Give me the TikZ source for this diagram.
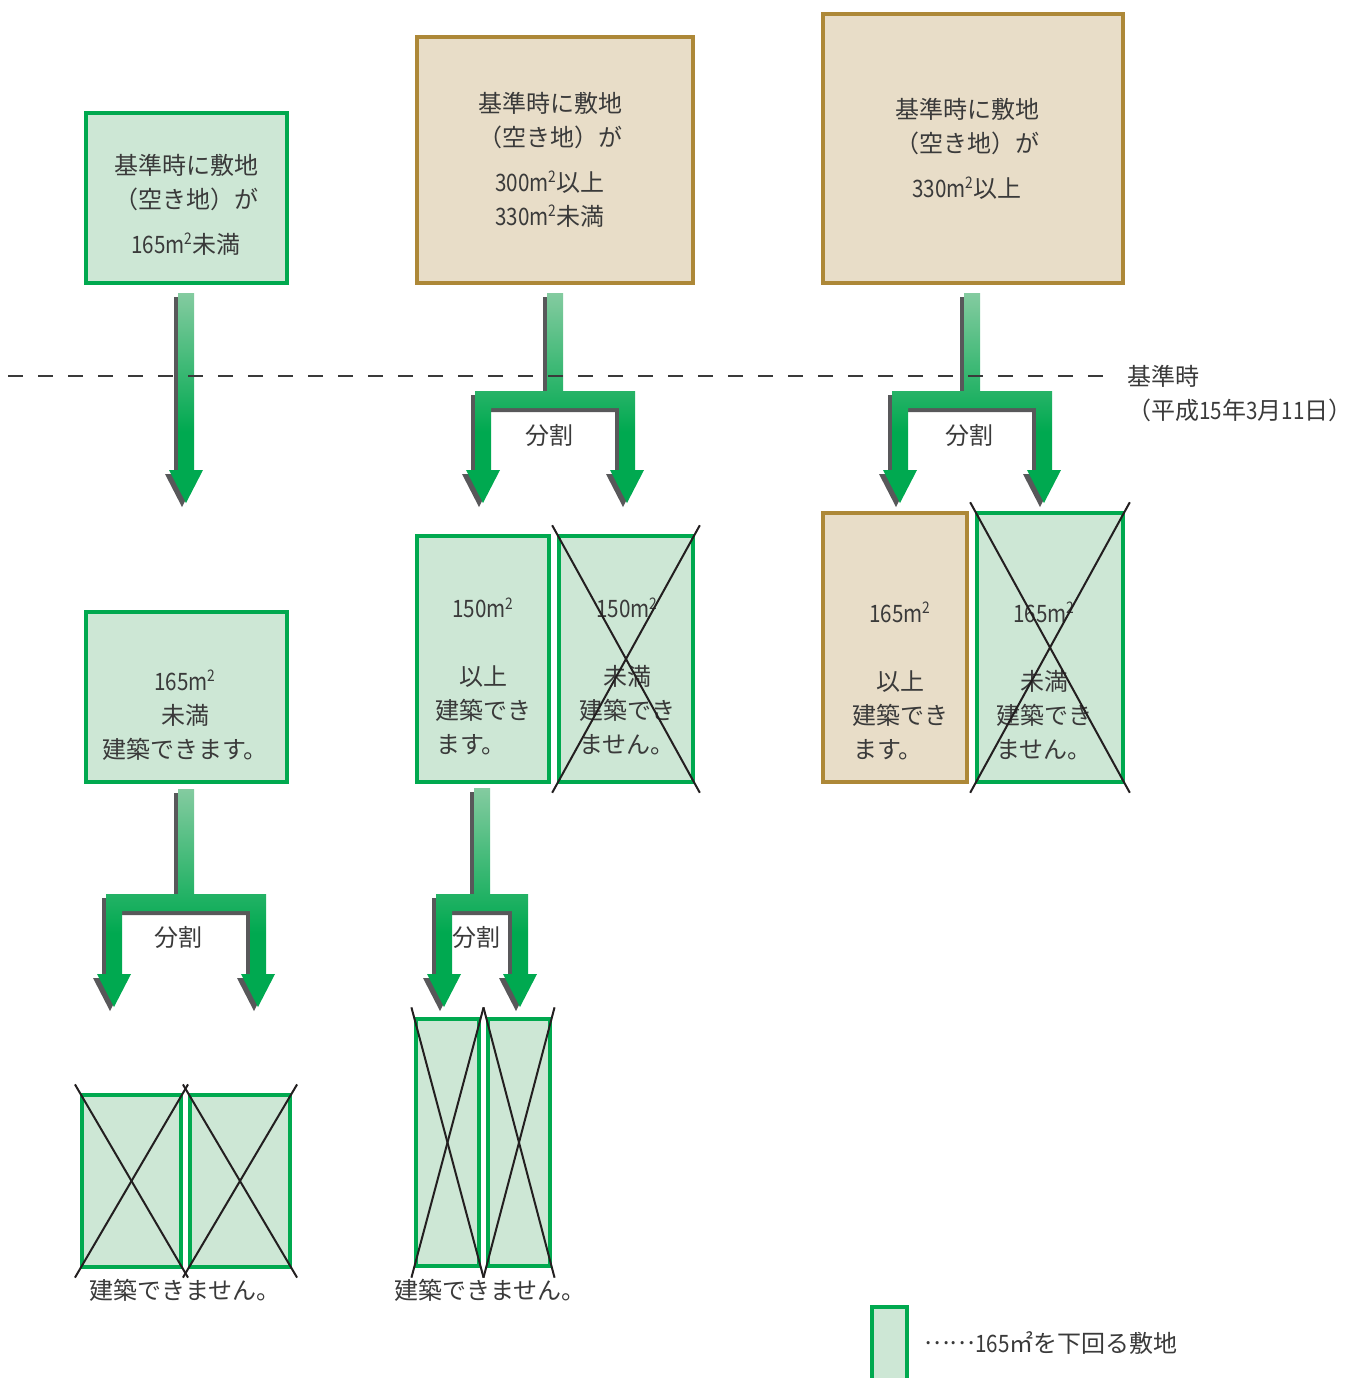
\documentclass[tikz,border=0pt]{standalone}
\usepackage{fontspec}
\setmainfont{Noto Sans CJK JP}
\newfontfamily\numfont[FakeStretch=0.86]{Noto Sans CJK JP}

\definecolor{lgreen}{HTML}{00A94F}
\definecolor{lgreenfill}{HTML}{CDE7D5}
\definecolor{ltan}{HTML}{AD8838}
\definecolor{ltanfill}{HTML}{E8DDC8}
\definecolor{agreen}{HTML}{00A950}
\definecolor{alight}{HTML}{84CBA0}
\definecolor{ashade}{HTML}{58585A}
\definecolor{txtgray}{HTML}{3A3A3A}
\definecolor{crossblack}{HTML}{231F20}

\pgfdeclareverticalshading{arrowfade}{100bp}{color(0bp)=(agreen); color(25bp)=(agreen); color(42bp)=(agreen); color(75bp)=(alight); color(100bp)=(alight)}

\tikzset{
  lotg/.style={draw=lgreen, fill=lgreenfill, line width=2pt, inner sep=0pt},
  lott/.style={draw=ltan, fill=ltanfill, line width=2pt, inner sep=0pt},
  lbl/.style={text=txtgray, align=center, inner sep=0pt, font=\fontsize{12}{17}\selectfont},
  cross/.style={draw=crossblack, line width=1pt, shorten <=-5pt, shorten >=-5pt},
  dashline/.style={draw=txtgray, line width=0.8pt, dash pattern=on 7.5pt off 7.5pt},
  ashadow/.style={fill=ashade},
  afill/.style={shade, shading=arrowfade}
}

% area in square metres, narrow digits
\newcommand{\area}[1]{{\numfont #1m\textsuperscript{\kern-0.05em 2}}}

% centre x, top y, tip y
\newcommand{\droparrow}[3]{%
  \foreach \dx/\dy/\how in {-4/4/ashadow, 0/0/afill}
    \path[\how, shift={(\dx,\dy)}] ({#1-8},#2) -- ({#1+8},#2) -- ({#1+8},{#3-33})
      -- ({#1+17},{#3-33}) -- (#1,#3) -- ({#1-17},{#3-33}) -- ({#1-8},{#3-33}) -- cycle;}

% centre x, top y, bar y, tip y, spread
\newcommand{\splitarrow}[5]{%
  \foreach \dx/\dy/\how in {-4/4/ashadow, 0/0/afill}
    \path[\how, shift={(\dx,\dy)}] ({#1-8},#2) -- ({#1+8},#2) -- ({#1+8},#3)
      -- ({#1+#5+8},#3) -- ({#1+#5+8},{#4-33}) -- ({#1+#5+17},{#4-33}) -- ({#1+#5},#4)
      -- ({#1+#5-17},{#4-33}) -- ({#1+#5-8},{#4-33}) -- ({#1+#5-8},{#3+17})
      -- ({#1-#5+8},{#3+17}) -- ({#1-#5+8},{#4-33}) -- ({#1-#5+17},{#4-33}) -- ({#1-#5},#4)
      -- ({#1-#5-17},{#4-33}) -- ({#1-#5-8},{#4-33}) -- ({#1-#5-8},#3) -- ({#1-8},#3) -- cycle;}

\begin{document}
\begin{tikzpicture}[x=0.5pt, y=-0.5pt]
      \useasboundingbox (0,0) rectangle (1362,1378);
      \clip (0,0) rectangle (1362,1378);
      % arrows
      \droparrow{186}{293}{503}
      \splitarrow{555}{293}{391}{503}{72}
      \splitarrow{972}{293}{391}{503}{72}
      \splitarrow{186}{789}{894}{1007}{72}
      \splitarrow{482}{788}{894}{1007}{38}
      % reference date
      \draw[dashline] (8,376) -- (1115,376);
      \node[lbl, align=left, anchor=west] at (1127,394) (K) {基準時\\（平成{\numfont 15}年{\numfont 3}月{\numfont 11}日）};
      % first column
      \node[lotg, minimum width=100.5pt, minimum height=85pt] at (186.5,198) (A) {};
      \node[lbl] at (186,204.5) (At) {基準時に敷地\\（空き地）が\\[5.5pt]\area{165}未満};
      \node[lotg, minimum width=100.5pt, minimum height=85pt] at (186.5,697) (A1) {};
      \node[lbl] at (185,715) (A1t) {\area{165}\\未満\\建築できます。};
      \node[lbl] at (178,937) (A1s) {分割};
      \node[lotg, minimum width=49.5pt, minimum height=86pt] at (131.5,1181) (A2) {};
      \node[lotg, minimum width=50pt, minimum height=86pt] at (240,1181) (A3) {};
      \draw[cross] (A2.north west) -- (A2.south east);
      \draw[cross] (A2.north east) -- (A2.south west);
      \draw[cross] (A3.north west) -- (A3.south east);
      \draw[cross] (A3.north east) -- (A3.south west);
      \node[lbl] at (185,1290) (A23t) {建築できません。};
      % second column
      \node[lott, minimum width=138pt, minimum height=123pt] at (555,160) (B) {};
      \node[lbl] at (550,159.5) (Bt) {基準時に敷地\\（空き地）が\\[5.5pt]\area{300}以上\\\area{330}未満};
      \node[lbl] at (549,435) (Bs) {分割};
      \node[lotg, minimum width=66pt, minimum height=123pt] at (483,659) (B1) {};
      \node[lbl] at (483,676.5) (B1t) {\area{150}\\[17pt]以上\\建築でき\\ます。\phantom{き}};
      \node[lotg, minimum width=67pt, minimum height=123pt] at (626,659) (B2) {};
      \node[lbl] at (627,676.5) (B2t) {\area{150}\\[17pt]未満\\建築でき\\ません。};
      \draw[cross] (B2.north west) -- (B2.south east);
      \draw[cross] (B2.north east) -- (B2.south west);
      \node[lbl] at (476,937) (B1s) {分割};
      \node[lotg, minimum width=31.5pt, minimum height=123.5pt] at (447.5,1142.5) (B3) {};
      \node[lotg, minimum width=31pt, minimum height=123.5pt] at (519,1142.5) (B4) {};
      \draw[cross] (B3.north west) -- (B3.south east);
      \draw[cross] (B3.north east) -- (B3.south west);
      \draw[cross] (B4.north west) -- (B4.south east);
      \draw[cross] (B4.north east) -- (B4.south west);
      \node[lbl] at (490,1290) (B34t) {建築できません。};
      % third column
      \node[lott, minimum width=150pt, minimum height=134.5pt] at (973,148.5) (C) {};
      \node[lbl] at (967,148.5) (Ct) {基準時に敷地\\（空き地）が\\[5.5pt]\area{330}以上};
      \node[lbl] at (969,435) (Cs) {分割};
      \node[lott, minimum width=72pt, minimum height=134.5pt] at (895,647.5) (C1) {};
      \node[lbl] at (900,681) (C1t) {\area{165}\\[17pt]以上\\建築でき\\ます。\phantom{き}};
      \node[lotg, minimum width=73pt, minimum height=134.5pt] at (1050,647.5) (C2) {};
      \node[lbl] at (1044,681) (C2t) {\area{165}\\[17pt]未満\\建築でき\\ません。};
      \draw[cross] (C2.north west) -- (C2.south east);
      \draw[cross] (C2.north east) -- (C2.south west);
      % legend
      \node[lotg, minimum width=17.5pt, minimum height=40pt] at (889.5,1347) (L) {};
      \node[lbl, anchor=west] at (924,1343) (Lt) {\raisebox{0.33em}{……}{\numfont 165}㎡を下回る敷地};
\end{tikzpicture}
\end{document}
